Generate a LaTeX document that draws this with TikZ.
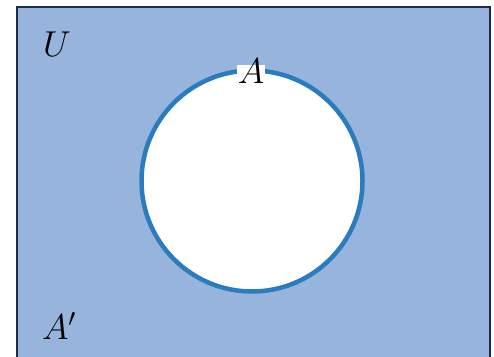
\documentclass[tikz,border=0pt]{standalone}
\usepackage{fix-cm}
\begin{document}
\begin{tikzpicture}[x=1pt,y=1pt,
  lbl/.style={inner sep=1pt,font=\fontsize{36}{40}\selectfont}]
\definecolor{bgblue}{HTML}{97B5DC}
\definecolor{ringblue}{HTML}{2B7BBF}
\definecolor{frame}{HTML}{1F2A44}
\useasboundingbox (0,0) rectangle (494,356);
\fill[white] (0,0) rectangle (494,356);
\fill[bgblue] (17,-2) rectangle (490,349);
\draw[frame,line width=1.2pt] (17,-2) -- (17,349) -- (490,349) -- (490,-2);
\node[circle,draw=ringblue,fill=white,line width=4.5pt,minimum size=221pt,inner sep=0pt] (A) at (252,175) {};
\fill[white] (237,279) rectangle (265,291);
\node[lbl] (Alab) at (251,285) {$A$};
\node[lbl] (U) at (57,312) {$U$};
\node[lbl] (Ac) at (59,30) {$A'$};
\end{tikzpicture}
\end{document}
